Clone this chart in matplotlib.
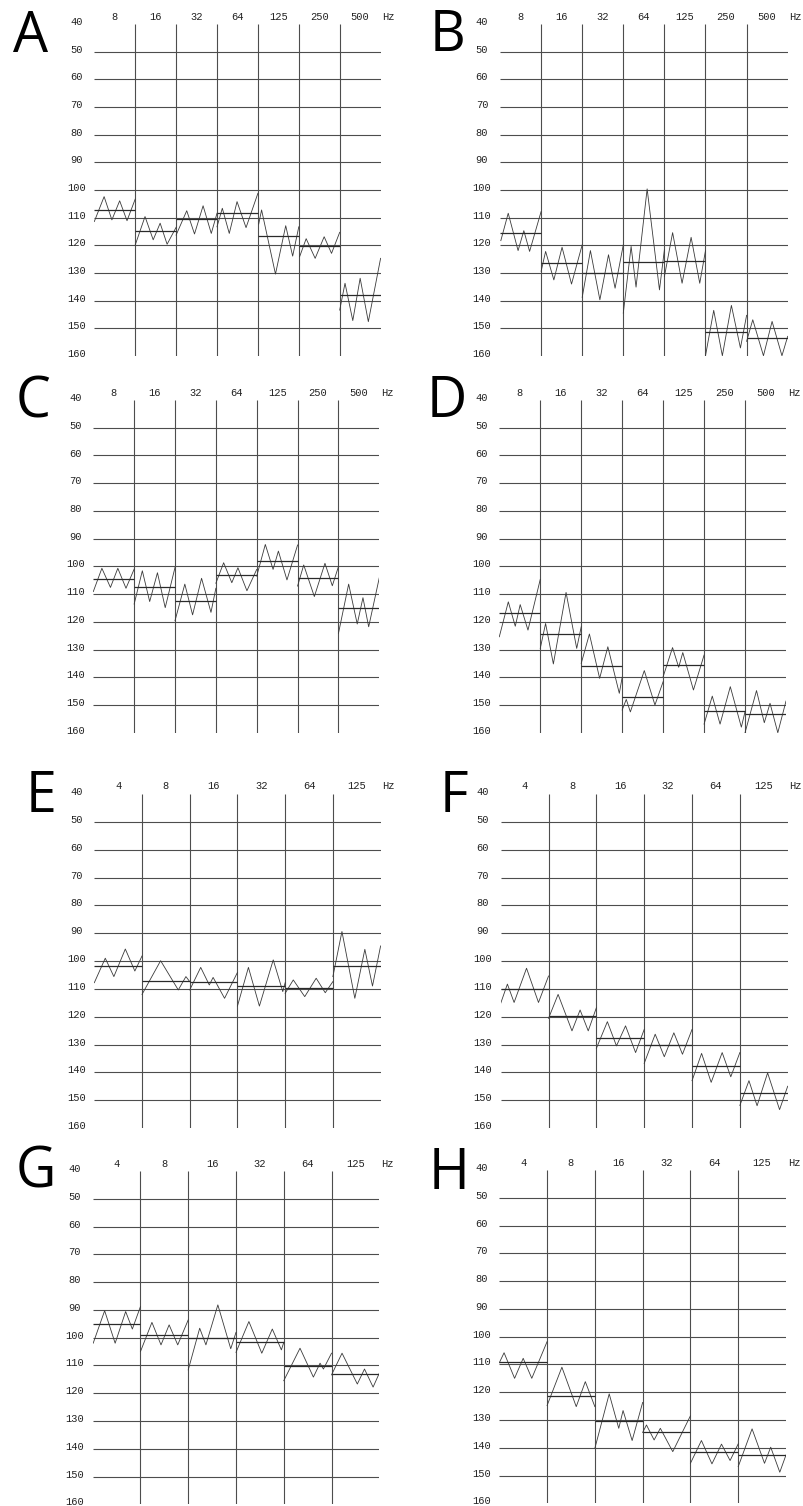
"""Eight staircase threshold tracks (panels A-H), redrawn as audiogram-style grids."""

import matplotlib

matplotlib.use("Agg")
import matplotlib.pyplot as plt  # noqa: E402
import numpy as np  # noqa: E402

W, H = 804, 1506

freqs_7 = ["8", "16", "32", "64", "125", "250", "500"]
freqs_6 = ["4", "8", "16", "32", "64", "125"]
levels = [40, 50, 60, 70, 80, 90, 100, 110, 120, 130, 140, 150, 160]

# position of each reversal inside its band (0..1) and level in dB, one list per band
a_pos = [[0, .24, .43, .62, .80, 1], [0, .24, .44, .61, .78, 1], [0, .26, .45, .66, .86, 1],
         [0, .13, .30, .49, .71, 1], [.02, .09, .43, .68, .85, 1], [.02, .18, .40, .62, .80, 1],
         [0, .13, .32, .50, .70, 1]]
a_lvl = [[111.4, 102.4, 110.8, 103.9, 111.1, 103.3], [119.9, 109.6, 118, 112, 119.6, 113.5],
         [116.3, 107.5, 115.9, 105.7, 115.7, 108.4], [113.3, 106.6, 115.7, 104.2, 113.6, 101.2],
         [112.3, 107.2, 130.4, 112.9, 123.9, 113.3], [124.1, 117.6, 124.7, 116.9, 122.9, 115.3],
         [143.4, 133.7, 147.2, 131.9, 147.6, 124.7]]
a_mean = [107.2, 114.8, 110.5, 108.4, 116.6, 120.2, 138.1]

b_pos = [[.02, .20, .44, .58, .72, 1], [0, .11, .31, .51, .74, 1], [0, .20, .43, .64, .80, 1],
         [0, .19, .31, .58, .88, 1], [0, .20, .43, .65, .86, 1], [0, .20, .41, .63, .85, 1],
         [0, .15, .41, .62, .86, 1]]
b_lvl = [[118.3, 108.4, 121.9, 114.7, 122.2, 107.8], [129.4, 122.2, 132.5, 120.7, 134, 119.8],
         [138.8, 121.9, 139.7, 123.4, 135.5, 119.8], [144.5, 120.4, 135.1, 99.6, 136.1, 121.6],
         [131.3, 115.4, 133.7, 117.1, 133.7, 121.9], [159.9, 143.5, 159.9, 141.7, 157.1, 145.3],
         [154.7, 146.9, 159.9, 147.5, 159.9, 152.9]]
b_mean = [115.6, 126.4, 130, 126.2, 125.6, 151.3, 153.5]

c_pos = [[0, .21, .42, .60, .80, 1], [0, .20, .38, .57, .76, 1], [0, .24, .43, .65, .88, 1],
         [0, .19, .39, .54, .76, 1], [0, .21, .40, .53, .74, 1], [0, .15, .41, .67, .85, 1],
         [0, .25, .46, .60, .74, 1]]
c_lvl = [[109.1, 100.7, 107.6, 100.7, 107.9, 101], [113.6, 101.6, 112.7, 102.3, 114.9, 100.4],
         [119.6, 106.4, 117.5, 104.3, 116.6, 107.9], [106.1, 98.7, 105.9, 100.5, 108.8, 101.1],
         [103.5, 92.1, 101.1, 94.5, 104.9, 92.3], [107.1, 99.5, 110.9, 98.9, 107, 100.1],
         [124.2, 106.4, 120.8, 111.3, 121.8, 104.1]]
c_mean = [104.7, 107.6, 112.4, 103.1, 98.1, 104.1, 115.1]

d_pos = [[0, .22, .39, .51, .70, 1], [0, .13, .32, .63, .89, 1], [0, .20, .45, .65, .93, 1],
         [0, .10, .20, .54, .80, 1], [0, .23, .38, .48, .74, 1], [0, .20, .39, .64, .91, 1],
         [0, .28, .47, .61, .80, 1]]
d_lvl = [[125.4, 112.8, 121.6, 113.8, 123, 104.7], [129.6, 120.6, 135.2, 109.4, 129.6, 121.8],
         [135, 124.4, 140.4, 129, 145.8, 140], [151.8, 148, 152.5, 137.6, 150, 141.6],
         [139.8, 129.3, 136.4, 131.1, 144.6, 132], [156.9, 146.8, 156.9, 143.4, 158, 152.4],
         [160, 144.8, 156.4, 149.4, 160, 148.6]]
d_mean = [116.9, 124.4, 135.9, 147.2, 135.6, 152.0, 153.4]

e_pos = [[0, .23, .41, .65, .85, 1], [0, .39, .76, .92, 1], [0, .23, .41, .49, .73, 1],
         [0, .23, .46, .75, .95, 1], [0, .17, .41, .65, .84, 1], [0, .19, .46, .67, .83, 1]]
e_lvl = [[107.8, 99, 105.6, 95.7, 103.6, 98.2], [112, 99.9, 110.4, 105.6, 107.4],
         [110.4, 102.3, 108.6, 105.9, 113.4, 104.1], [116.2, 102.3, 116.2, 99.6, 111, 107.8],
         [111.6, 106.8, 112.8, 106.2, 111.4, 107.4], [105.6, 89.4, 113.4, 95.8, 109, 94.6]]
e_mean = [101.7, 107.1, 107.7, 108.9, 109.6, 101.7]

f_pos = [[0, .14, .28, .54, .79, 1], [0, .20, .49, .66, .83, 1], [0, .23, .42, .61, .82, 1],
         [0, .23, .42, .62, .80, 1], [0, .20, .40, .63, .81, 1], [0, .19, .36, .58, .83, 1]]
f_lvl = [[115.2, 108.3, 114.9, 102.6, 114.9, 105.4], [120.6, 112, 125.1, 117.6, 125.1, 116.8],
         [131.4, 121.8, 130.5, 123.3, 132.9, 124.6], [136.8, 126.3, 134.4, 125.8, 133.5, 124.6],
         [143, 133.2, 143.6, 132.9, 141.6, 132.9], [151.9, 143, 152, 140.2, 153.4, 145]]
f_mean = [110.2, 119.8, 127.5, 130.2, 137.8, 147.6]

g_pos = [[.01, .25, .47, .69, .83, 1], [0, .24, .43, .60, .78, 1], [0, .24, .37, .62, .89, 1],
         [0, .27, .54, .76, .95, 1], [0, .34, .62, .76, .83, 1], [0, .22, .54, .69, .87, 1]]
g_lvl = [[102, 90.3, 102, 90.6, 96.9, 88.8], [105, 94.5, 102.6, 95.4, 102.6, 93.6],
         [111.6, 96.6, 102.6, 88.2, 104, 98.1], [105.3, 94.2, 105.6, 96.9, 104.4, 101.7],
         [115.5, 103.8, 114.2, 109.2, 111.3, 105.6], [113.4, 105.6, 116.7, 111.3, 117.8, 112.8]]
g_mean = [95, 99, 100.2, 101.7, 110.1, 113.1]

h_pos = [[0, .10, .32, .50, .68, 1], [0, .31, .61, .80, 1], [0, .30, .50, .59, .78, 1],
         [0, .08, .24, .37, .63, 1], [0, .23, .45, .65, .83, 1], [0, .29, .55, .68, .87, 1]]
h_lvl = [[109.4, 105.8, 115, 107.8, 115, 101.8], [124.8, 111, 125.2, 116.2, 125.2],
         [140.2, 120.6, 133, 126.6, 137.4, 123.7], [134.5, 131.8, 137.2, 133, 141.4, 128.5],
         [145.6, 137.4, 145.8, 138.7, 144.6, 138.6], [146.8, 133.2, 145.6, 139.8, 148.8, 142.6]]
h_mean = [109.2, 121.2, 130.2, 134.4, 141.7, 142.6]

# letter, freq labels, data, and axes box in pixels (left, y of 40 dB, width, height of 40..160)
panels = [
    ("A", freqs_7, a_pos, a_lvl, a_mean, (94.3, 24, 286.3, 332), (13, 52)),
    ("B", freqs_7, b_pos, b_lvl, b_mean, (500, 24, 287.7, 332), (430, 51)),
    ("C", freqs_7, c_pos, c_lvl, c_mean, (93.3, 400, 286, 332.7), (16, 418)),
    ("D", freqs_7, d_pos, d_lvl, d_mean, (499.3, 400, 286.7, 332.7), (427, 417)),
    ("E", freqs_6, e_pos, e_lvl, e_mean, (94.3, 794, 286.3, 334), (26, 812)),
    ("F", freqs_6, f_pos, f_lvl, f_mean, (500.7, 794, 287, 334), (440, 812)),
    ("G", freqs_6, g_pos, g_lvl, g_mean, (92.7, 1171, 286.6, 333.3), (16, 1188)),
    ("H", freqs_6, h_pos, h_lvl, h_mean, (499.3, 1170, 286.7, 333.3), (429, 1189)),
]

GRID = "#4d4d4d"
TRACE = "#3a3a3a"
MONO = "Liberation Mono"


def draw_panel(fig, letter, freqs, pos, lvl, mean, box, letter_xy):
    left, top, width, height = box
    ax = fig.add_axes([left / W, 1 - (top + height) / H, width / W, height / H])
    n = len(freqs)
    ax.set_xlim(0, n)
    ax.set_ylim(160, 40)
    ax.set_axis_off()

    ax.hlines(levels[1:-1], 0, n, color=GRID, lw=0.8)
    ax.vlines(range(1, n), 40, 160, color=GRID, lw=0.8)

    for i in range(n):
        ax.plot(i + np.array(pos[i]), lvl[i], color=TRACE, lw=0.6)
        ax.hlines(mean[i], i, i + 1, color="#2a2a2a", lw=0.9)

    # dB labels, centred left of the grid and sitting a touch above their line
    for v in levels:
        ax.text(-18 / width, v - 0.7, str(v), transform=ax.get_yaxis_transform(),
                ha="center", va="center", family=MONO, fontsize=7.5, color="#222222",
                clip_on=False)
    for i, f in enumerate(freqs):
        ax.text(i + 0.5, 37.3, f, ha="center", va="center", family=MONO,
                fontsize=7.5, color="#222222", clip_on=False)
    ax.text(1 + 8 / width, 37.3, "Hz", transform=ax.get_yaxis_transform(),
            ha="center", va="center", family=MONO, fontsize=7.5, color="#222222")

    fig.text(letter_xy[0] / W, 1 - letter_xy[1] / H, letter, family="Open Sans",
             fontsize=40, ha="left", va="baseline", color="black")


def main() -> None:
    fig = plt.figure(figsize=(W / 100, H / 100), dpi=100)
    for letter, freqs, pos, lvl, mean, box, letter_xy in panels:
        draw_panel(fig, letter, freqs, pos, lvl, mean, box, letter_xy)
    fig.savefig("out.png", dpi=100, facecolor="white")


if __name__ == "__main__":
    main()
